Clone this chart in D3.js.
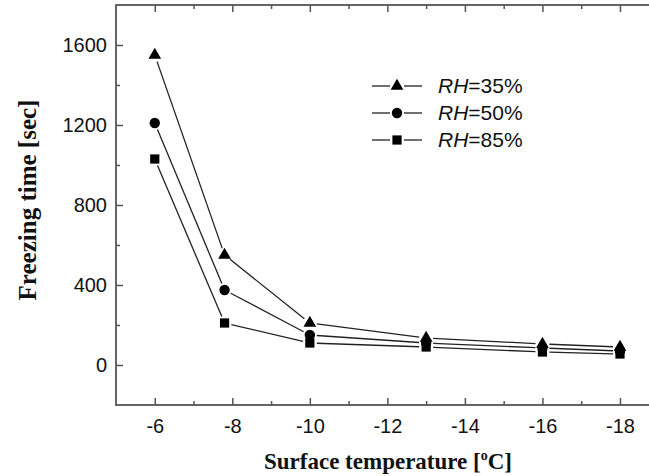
<!DOCTYPE html>
<html>
<head>
<meta charset="utf-8">
<script src="https://cdn.jsdelivr.net/npm/d3@7/dist/d3.min.js"></script>
<style>
  body { margin: 0; background: #fff; }
  svg { display: block; }
  .tick text { font-family: "Liberation Sans", Arial, sans-serif; font-size: 20px; fill: #111; }
  .tick line { stroke: #555; stroke-width: 1.5; }
</style>
</head>
<body>
<div id="chart"></div>
<script>
var width = 649;
var height = 476;

// data
var temps = [-6, -7.8, -10, -13, -16, -18];
var rh35 = [1550, 550, 210, 135, 105, 90];
var rh50 = [1210, 375, 150, 110, 85, 70];
var rh85 = [1030, 210, 110, 90, 65, 55];
var seriesNames = ["35%", "50%", "85%"];
var xTicks = [-6, -8, -10, -12, -14, -16, -18];
var xMinor = [-7, -9, -11, -13, -15, -17];
var yTicks = [0, 400, 800, 1200, 1600];
var yMinor = [200, 600, 1000, 1400];

var series = [
  {name: seriesNames[0], values: rh35, shape: d3.symbolTriangle, size: 70},
  {name: seriesNames[1], values: rh50, shape: d3.symbolCircle, size: 85},
  {name: seriesNames[2], values: rh85, shape: d3.symbolSquare, size: 85}
];

var x = d3.scaleLinear().domain([-5, -19]).range([116, 658.75]);
var y = d3.scaleLinear().domain([-200, 1800]).range([405, 5]);

var svg = d3.select("#chart")
  .append("svg")
    .attr("width", width)
    .attr("height", height);

function noDomain(g) { g.select(".domain").remove(); }

// axes, ticks inward
svg.append("g")
  .attr("transform", "translate(0," + y(-200) + ")")
  .call(d3.axisBottom(x).tickValues(xTicks).tickSizeInner(-7).tickSizeOuter(0).tickPadding(14)
    .tickFormat(function(d) { return String(d); }))
  .call(noDomain);

svg.append("g")
  .attr("transform", "translate(0," + y(-200) + ")")
  .call(d3.axisBottom(x).tickValues(xMinor).tickSizeInner(-4).tickSizeOuter(0).tickFormat(""))
  .call(noDomain);

svg.append("g")
  .attr("transform", "translate(0," + y(1800) + ")")
  .call(d3.axisTop(x).tickValues(xTicks).tickSizeInner(-7).tickSizeOuter(0).tickFormat(""))
  .call(noDomain);

svg.append("g")
  .attr("transform", "translate(0," + y(1800) + ")")
  .call(d3.axisTop(x).tickValues(xMinor).tickSizeInner(-4).tickSizeOuter(0).tickFormat(""))
  .call(noDomain);

svg.append("g")
  .attr("transform", "translate(" + x(-5) + ",0)")
  .call(d3.axisLeft(y).tickValues(yTicks).tickSizeInner(-7).tickSizeOuter(0).tickPadding(9)
    .tickFormat(function(d) { return String(d); }))
  .call(noDomain);

svg.append("g")
  .attr("transform", "translate(" + x(-5) + ",0)")
  .call(d3.axisLeft(y).tickValues(yMinor).tickSizeInner(-4).tickSizeOuter(0).tickFormat(""))
  .call(noDomain);

// frame
svg.append("rect")
  .attr("x", x(-5))
  .attr("y", y(1800))
  .attr("width", x(-19) - x(-5))
  .attr("height", y(-200) - y(1800))
  .attr("fill", "none")
  .attr("stroke", "#555")
  .attr("stroke-width", 1.8);

// lines with small gaps at the markers
var gap = 7;
series.forEach(function(s) {
  var pts = temps.map(function(t, i) { return [x(t), y(s.values[i])]; });
  for (var i = 0; i < pts.length - 1; i++) {
    var a = pts[i], b = pts[i + 1];
    var dx = b[0] - a[0], dy = b[1] - a[1];
    var len = Math.sqrt(dx * dx + dy * dy);
    var g0 = Math.min(gap, len / 2 - 0.5);
    svg.append("line")
      .attr("x1", a[0] + dx / len * g0)
      .attr("y1", a[1] + dy / len * g0)
      .attr("x2", b[0] - dx / len * g0)
      .attr("y2", b[1] - dy / len * g0)
      .attr("stroke", "#222")
      .attr("stroke-width", 1.3);
  }
  svg.selectAll(null)
    .data(s.values)
    .enter()
      .append("path")
        .attr("d", d3.symbol().type(s.shape).size(s.size))
        .attr("transform", function(d, i) { return "translate(" + x(temps[i]) + "," + y(d) + ")"; })
        .attr("fill", "#000");
});

// legend
var legendY = [86, 113, 140];
series.forEach(function(s, i) {
  var ly = legendY[i];
  svg.append("line").attr("x1", 372).attr("x2", 390).attr("y1", ly).attr("y2", ly)
    .attr("stroke", "#222").attr("stroke-width", 1.3);
  svg.append("line").attr("x1", 404).attr("x2", 422).attr("y1", ly).attr("y2", ly)
    .attr("stroke", "#222").attr("stroke-width", 1.3);
  svg.append("path")
    .attr("d", d3.symbol().type(s.shape).size(s.size))
    .attr("transform", "translate(397," + ly + ")")
    .attr("fill", "#000");
  var t = svg.append("text")
    .attr("x", 438)
    .attr("y", ly + 7)
    .style("font-family", "Liberation Sans, Arial, sans-serif")
    .style("font-size", "21px")
    .attr("fill", "#111");
  t.append("tspan").style("font-style", "italic").text("RH");
  t.append("tspan").text("=" + s.name);
});

// axis titles
var xt = svg.append("text")
  .attr("x", 388)
  .attr("y", 469)
  .attr("text-anchor", "middle")
  .style("font-family", "Liberation Serif, Times New Roman, serif")
  .style("font-weight", "bold")
  .style("font-size", "23px")
  .attr("fill", "#111");
xt.append("tspan").text("Surface temperature [");
xt.append("tspan").attr("dy", -9).style("font-size", "14px").text("o");
xt.append("tspan").attr("dy", 9).text("C]");

svg.append("text")
  .attr("transform", "translate(36,200) rotate(-90)")
  .attr("text-anchor", "middle")
  .style("font-family", "Liberation Serif, Times New Roman, serif")
  .style("font-weight", "bold")
  .style("font-size", "25px")
  .attr("fill", "#111")
  .text("Freezing time [sec]");
</script>
</body>
</html>
